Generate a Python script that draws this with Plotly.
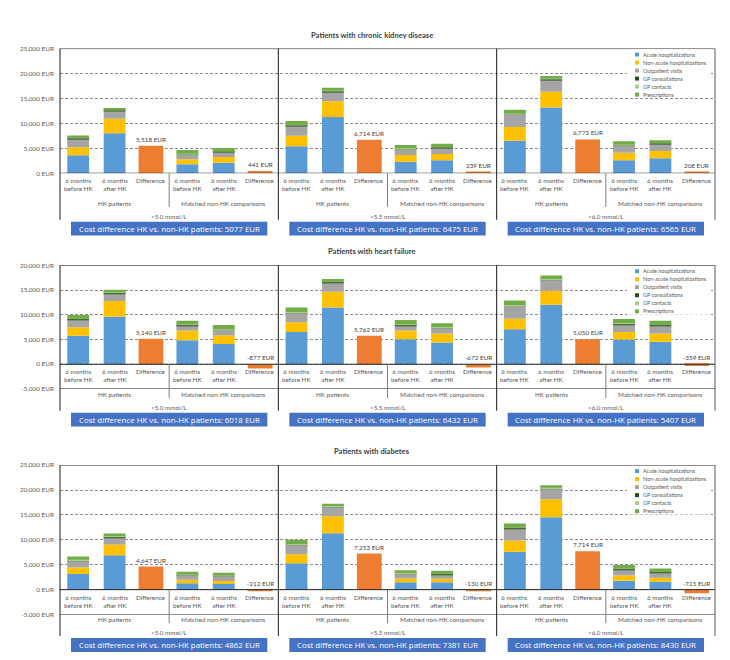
import plotly.graph_objects as go

# ---------------- data ----------------
components = ["Acute hospitalizations", "Non-acute hospitalizations", "Outpatient visits",
              "GP consultations", "GP contacts", "Prescriptions"]
thresholds = [">5.0 mmol/L", ">5.5 mmol/L", ">6.0 mmol/L"]
slot_labels = ["6 months<br>before HK", "6 months<br>after HK", "Difference",
               "6 months<br>before HK", "6 months<br>after HK", "Difference"]
group_labels = ["HK patients", "Matched non-HK comparisons"]
panel_titles = ["Patients with chronic kidney disease", "Patients with heart failure",
                "Patients with diabetes"]

# stacked bars, per threshold: HK before, HK after, matched before, matched after
ckd_acute      = [3600, 8040, 1830, 2090,  5430, 11310, 2290, 2620,  6540, 13210, 2620, 3010]
ckd_nonacute   = [1630, 2880,  980, 1180,  2090,  3140, 1370, 1240,  2750,  3140, 1500, 1440]
ckd_outpatient = [1640, 1510,  980,  980,  1960,  1900, 1180, 1240,  2480,  2420, 1500, 1440]
ckd_gp_cons    = [ 150,  150,  100,  100,   150,   150,  100,  100,   150,   150,  100,  100]
ckd_gp_contact = [  80,  100,   60,   60,    80,    80,   60,   60,    80,    80,   60,   60]
ckd_prescr     = [ 500,  420,  700,  680,   750,   590,  690,  670,   750,   520,  630,  570]
ckd_diff       = [5518, 441, 6714, 239, 6773, 208]
ckd_cost_diff  = [5077, 6475, 6565]
ckd_ticks      = [0, 5000, 10000, 15000, 20000, 25000]

hf_acute      = [5730, 9600, 4870, 4070,  6530, 11470, 5070, 4400,  7070, 12000, 5000, 4530]
hf_nonacute   = [1740, 3200, 1930, 1800,  1940,  3200, 1730, 1800,  2130,  2870, 1530, 1670]
hf_outpatient = [1530, 1530, 1070, 1000,  1860,  1800, 1070, 1130,  2530,  2130, 1540, 1530]
hf_gp_cons    = [ 150,  150,  150,  120,   150,   150,  150,  120,   150,   150,  200,  150]
hf_gp_contact = [  80,   80,   80,   80,    80,    80,   80,   80,    80,    80,   80,   80]
hf_prescr     = [ 700,  510,  700,  850,   910,   530,  830,  730,   900,   680,  780,  810]
hf_diff       = [5140, -877, 5762, -672, 5050, -359]
hf_cost_diff  = [6018, 6432, 5407]
hf_ticks      = [-5000, 0, 5000, 10000, 15000, 20000]

dm_acute      = [3120, 6900, 1260, 1130,  5300, 11340, 1460, 1460,  7620, 14520, 1790, 1590]
dm_nonacute   = [1320, 2180,  730,  590,  1790,  3380,  790,  730,  2260,  3650, 1060,  800]
dm_outpatient = [1330, 1460,  930, 1000,  1860,  1860,  930,  860,  2390,  2050, 1260, 1060]
dm_gp_cons    = [ 150,  150,  100,  100,   150,   150,  100,  100,   150,   150,  100,  100]
dm_gp_contact = [  80,   80,   60,   60,    80,    80,   60,   60,    80,    80,   60,   60]
dm_prescr     = [ 630,  510,  500,  490,   830,   450,  570,  570,   760,   520,  700,  650]
dm_diff       = [4647, -212, 7253, -130, 7714, -715]
dm_cost_diff  = [4862, 7381, 8430]
dm_ticks      = [-5000, 0, 5000, 10000, 15000, 20000, 25000]

# ---------------- style / layout ----------------
colors = ["#5B9BD5", "#FFC000", "#A5A5A5", "#2B4A1B", "#A9D18E", "#70AD47"]
diff_color = "#ED7D31"
box_color = "#4472C4"
FONT = "Lato, 'Open Sans', sans-serif"
W, H = 730, 660
PLOT_L, PLOT_R = 52, 707
panel_px = [(37, 163), (256, 381), (458, 609)]
y_ranges = [(0, 25000), (-5000, 20000), (-5000, 25000)]
SLOT_PX = (PLOT_R - PLOT_L) / 18.0

panels = [
    dict(comps=[ckd_acute, ckd_nonacute, ckd_outpatient, ckd_gp_cons, ckd_gp_contact, ckd_prescr],
         diff=ckd_diff, cost=ckd_cost_diff, ticks=ckd_ticks),
    dict(comps=[hf_acute, hf_nonacute, hf_outpatient, hf_gp_cons, hf_gp_contact, hf_prescr],
         diff=hf_diff, cost=hf_cost_diff, ticks=hf_ticks),
    dict(comps=[dm_acute, dm_nonacute, dm_outpatient, dm_gp_cons, dm_gp_contact, dm_prescr],
         diff=dm_diff, cost=dm_cost_diff, ticks=dm_ticks),
]

cats = [f"{t} #{i}" for t in thresholds for i in range(6)]
stack_slots = [0, 1, 3, 4]
diff_slots = [2, 5]
stack_x = [cats[6 * ti + s] for ti in range(3) for s in stack_slots]
diff_x = [cats[6 * ti + s] for ti in range(3) for s in diff_slots]

fig = go.Figure()
layout = dict(width=W, height=H, autosize=False, margin=dict(l=0, r=0, t=0, b=0),
              paper_bgcolor="white", plot_bgcolor="white", barmode="relative",
              showlegend=False, font=dict(family=FONT, color="#595959"))
shapes, annotations = [], []


def py(px):
    return 1 - px / H


for p, panel in enumerate(panels):
    sfx = "" if p == 0 else str(p + 1)
    xa, ya = "x" + sfx, "y" + sfx
    top, bot = panel_px[p]
    lo, hi = y_ranges[p]
    ph = bot - top
    dz = ph * hi / (hi - lo)  # px from top to zero line
    zero_px = top + dz

    for comp, vals, col in zip(components, panel["comps"], colors):
        fig.add_trace(go.Bar(x=stack_x, y=vals, name=comp, marker_color=col,
                             marker_line_width=0, width=0.6, xaxis=xa, yaxis=ya))
    fig.add_trace(go.Bar(x=diff_x, y=panel["diff"], name="Difference", marker_color=diff_color,
                         marker_line_width=0, width=0.68, xaxis=xa, yaxis=ya))

    layout["xaxis" + sfx] = dict(domain=[PLOT_L / W, PLOT_R / W], anchor=ya, type="category",
                                 categoryorder="array", categoryarray=cats, range=[-0.5, 17.5],
                                 showticklabels=False, showgrid=False, zeroline=False,
                                 showline=False, ticks="")
    layout["yaxis" + sfx] = dict(domain=[py(bot), py(top)], anchor=xa, range=[lo, hi],
                                 tickvals=panel["ticks"],
                                 ticktext=[f"{v:,} EUR" for v in panel["ticks"]],
                                 showgrid=True, gridcolor="#8c8c8c", griddash="3px,2px",
                                 gridwidth=1, zeroline=False, showline=False, ticks="",
                                 ticklabelstandoff=5,
                                 tickfont=dict(family=FONT, size=6.4, color="#595959"))

    # top border, zero line, bottom border
    shapes.append(dict(type="line", xref=xa, yref=ya, x0=-0.5, x1=17.5, y0=hi, y1=hi,
                       line=dict(color="#1a1a1a", width=1), layer="above"))
    shapes.append(dict(type="line", xref=xa, yref=ya, x0=-0.5, x1=17.5, y0=0, y1=0,
                       line=dict(color="#262626", width=1), layer="above"))
    if lo < 0:
        shapes.append(dict(type="line", xref=xa, yref=ya, x0=-0.5, x1=17.5, y0=lo, y1=lo,
                           line=dict(color="#1a1a1a", width=1), layer="above"))
    # long vertical separators (axis, thresholds, right border)
    for k, xv in enumerate([-0.5, 5.5, 11.5, 17.5]):
        xp = (PLOT_L + (xv + 0.5) * SLOT_PX) / W
        shapes.append(dict(type="line", xref="paper", yref="paper", x0=xp, x1=xp,
                           y0=py(zero_px + 47), y1=py(top),
                           line=dict(color="#595959" if k == 3 else "#1a1a1a", width=1),
                           layer="above"))
    # group separators
    for ti in range(3):
        xp = (PLOT_L + (6 * ti + 3) * SLOT_PX) / W
        shapes.append(dict(type="line", xref="paper", yref="paper", x0=xp, x1=xp,
                           y0=py(zero_px + 34), y1=py(zero_px),
                           line=dict(color="#7f7f7f", width=1), layer="above"))

    # title
    annotations.append(dict(text=f"<b>{panel_titles[p]}</b>", xref="paper", x=364 / W,
                            yref=ya, y=hi, yshift=14, showarrow=False, xanchor="center",
                            yanchor="middle", font=dict(family=FONT, size=7.6, color="#404040")))

    for ti in range(3):
        # category labels
        for s in range(6):
            annotations.append(dict(text=slot_labels[s], xref=xa, x=6 * ti + s, yref=ya, y=0,
                                    yshift=-2, showarrow=False, xanchor="center", yanchor="top",
                                    align="center",
                                    font=dict(family=FONT, size=6.3, color="#595959")))
        for g in range(2):
            annotations.append(dict(text=group_labels[g], xref=xa, x=6 * ti + 1 + 3 * g, yref=ya,
                                    y=0, yshift=-30, showarrow=False, xanchor="center",
                                    yanchor="middle",
                                    font=dict(family=FONT, size=6.3, color="#595959")))
        annotations.append(dict(text=thresholds[ti], xref=xa, x=6 * ti + 2.5, yref=ya, y=0,
                                yshift=-43, showarrow=False, xanchor="center", yanchor="middle",
                                font=dict(family=FONT, size=6.3, color="#595959")))
        # difference value labels
        for j, s in enumerate(diff_slots):
            v = panel["diff"][2 * ti + j]
            annotations.append(dict(text=f"{v:,} EUR", xref=xa, x=6 * ti + s, yref=ya,
                                    y=max(v, 0), yshift=1, showarrow=False, xanchor="center",
                                    yanchor="bottom",
                                    font=dict(family=FONT, size=6.3, color="#404040")))
        # cost difference box
        bx0 = (PLOT_L + 6 * ti * SLOT_PX + 11) / W
        bx1 = (PLOT_L + (6 * ti + 6) * SLOT_PX - 11) / W
        shapes.append(dict(type="rect", xref="paper", yref="paper", x0=bx0, x1=bx1,
                           y0=py(zero_px + 63), y1=py(zero_px + 49),
                           fillcolor=box_color, line=dict(width=0), layer="above"))
        annotations.append(dict(text=f"Cost difference HK vs. non-HK patients: {panel['cost'][ti]} EUR",
                                xref="paper", x=(bx0 + bx1) / 2, yref="paper", y=py(zero_px + 56),
                                showarrow=False, xanchor="center", yanchor="middle",
                                font=dict(family="'Open Sans', Lato, sans-serif", size=7.9,
                                          color="white")))

    # manual legend
    shapes.append(dict(type="rect", xref="paper", x0=619 / W, x1=703 / W, yref="paper",
                       y0=py(top + 50), y1=py(top + 1),
                       fillcolor="white", line=dict(width=0), layer="above"))
    for i, (comp, col) in enumerate(zip(components, colors)):
        cy = top + 6 + 8.1 * i
        shapes.append(dict(type="rect", xref="paper", x0=627 / W, x1=631 / W, yref="paper",
                           y0=py(cy + 2), y1=py(cy - 2),
                           fillcolor=col, line=dict(width=0), layer="above"))
        annotations.append(dict(text=comp, xref="paper", x=633 / W, yref="paper", y=py(cy),
                                showarrow=False, xanchor="left", yanchor="middle",
                                font=dict(family=FONT, size=5.4, color="#595959")))

layout["shapes"] = shapes
layout["annotations"] = annotations
fig.update_layout(**layout)
fig.write_html("out.html")
